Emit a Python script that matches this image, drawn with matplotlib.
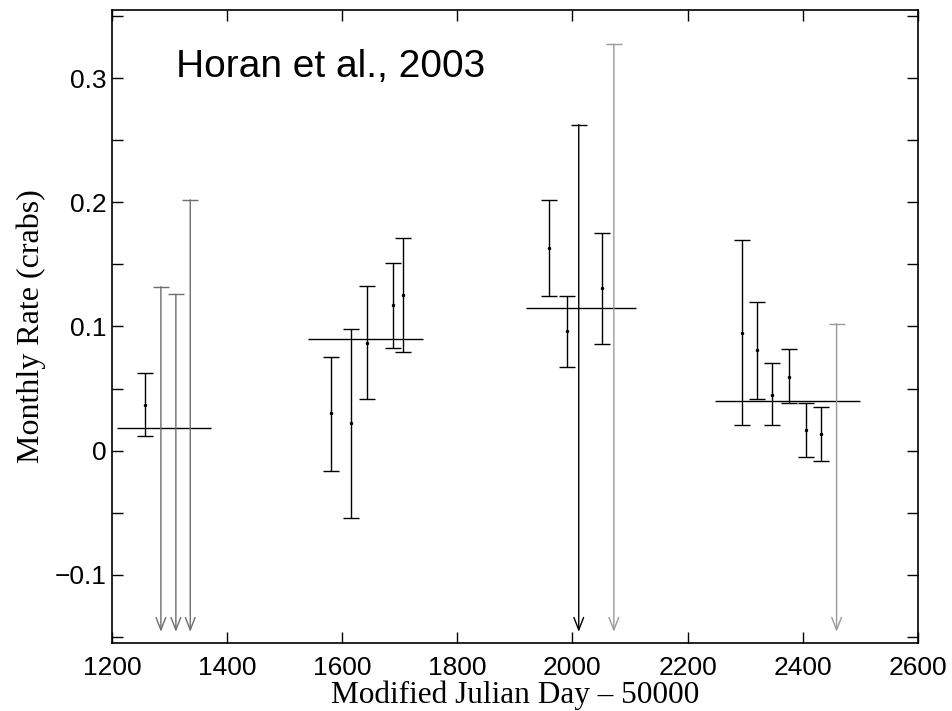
import numpy as np
import matplotlib.pyplot as plt
from matplotlib.ticker import MultipleLocator, FuncFormatter

# monthly rates with errors (crabs)
mjd = [1257, 1581, 1616, 1643, 1688, 1705, 1959, 1990, 2052,
       2294, 2320, 2347, 2377, 2406, 2432]
rate = [0.037, 0.030, 0.022, 0.087, 0.117, 0.125, 0.163, 0.096, 0.131,
        0.095, 0.081, 0.045, 0.059, 0.017, 0.013]
rate_hi = [0.0626, 0.0756, 0.098, 0.1323, 0.151, 0.171, 0.202, 0.1247, 0.1754,
           0.170, 0.120, 0.0707, 0.0815, 0.0386, 0.0348]
rate_lo = [0.012, -0.0162, -0.0545, 0.0416, 0.0826, 0.0794, 0.1247, 0.067, 0.0858,
           0.0205, 0.0418, 0.0205, 0.0386, -0.0049, -0.0084]

# upper limits
ul_mjd = [1285, 1311, 1336, 2011, 2072, 2459]
ul_val = [0.132, 0.126, 0.202, 0.2626, 0.3274, 0.1023]
ul_col = ['#6e6e6e', '#6e6e6e', '#6e6e6e', 'black', '#9a9a9a', '#9a9a9a']

# yearly averages
avg_val = [0.0184, 0.0901, 0.1147, 0.0397]
avg_start = [1209, 1540, 1920, 2248]
avg_end = [1372, 1741, 2110, 2500]

ymin, ymax = -0.155, 0.355
arrow_tip = -0.146

fig = plt.figure(figsize=(9.53, 7.11), dpi=100)
ax = fig.add_axes([0.1175, 0.0956, 0.8455, 0.8904])

rate = np.array(rate)
yerr = [rate - np.array(rate_lo), np.array(rate_hi) - rate]
ax.errorbar(mjd, rate, yerr=yerr, fmt='.', color='black', ms=3,
            elinewidth=1.0, capsize=5.5, capthick=1.0)

for x, top, c in zip(ul_mjd, ul_val, ul_col):
    ax.annotate('', xy=(x, arrow_tip), xytext=(x, top),
                arrowprops=dict(arrowstyle='->,head_length=0.9,head_width=0.35',
                                color=c, lw=1.0, shrinkA=0, shrinkB=0))
    ax.plot(x, top, marker='_', ms=11, mew=1.0, color=c)

ax.hlines(avg_val, avg_start, avg_end, color='black', lw=1.0)

ax.set_xlim(1200, 2600)
ax.set_ylim(ymin, ymax)
ax.xaxis.set_major_locator(MultipleLocator(200))
ax.yaxis.set_major_locator(MultipleLocator(0.1))
ax.yaxis.set_minor_locator(MultipleLocator(0.05))


def yfmt(v, pos):
    if abs(v) < 1e-9:
        return '0'
    s = '%.1f' % v
    return s.replace('-', '\u2212')


ax.yaxis.set_major_formatter(FuncFormatter(yfmt))
ax.tick_params(which='both', direction='in', top=True, right=True,
               length=8, width=1.0, labelsize=19)
ax.tick_params(axis='x', pad=9)
ax.tick_params(axis='y', pad=4)
for lab in ax.get_xticklabels() + ax.get_yticklabels():
    lab.set_family('Liberation Sans')
for s in ax.spines.values():
    s.set_linewidth(1.2)

ax.set_xlabel('Modified Julian Day \u2013 50000', family='Liberation Serif',
              fontsize=22.5, labelpad=1)
ax.set_ylabel('Monthly Rate (crabs)', family='Liberation Serif',
              fontsize=23, labelpad=6)

ax.text(0.079, 0.894, 'Horan et al., 2003', transform=ax.transAxes,
        family='Liberation Sans', fontsize=28, va='baseline', ha='left')

fig.savefig('out.png', dpi=100)
